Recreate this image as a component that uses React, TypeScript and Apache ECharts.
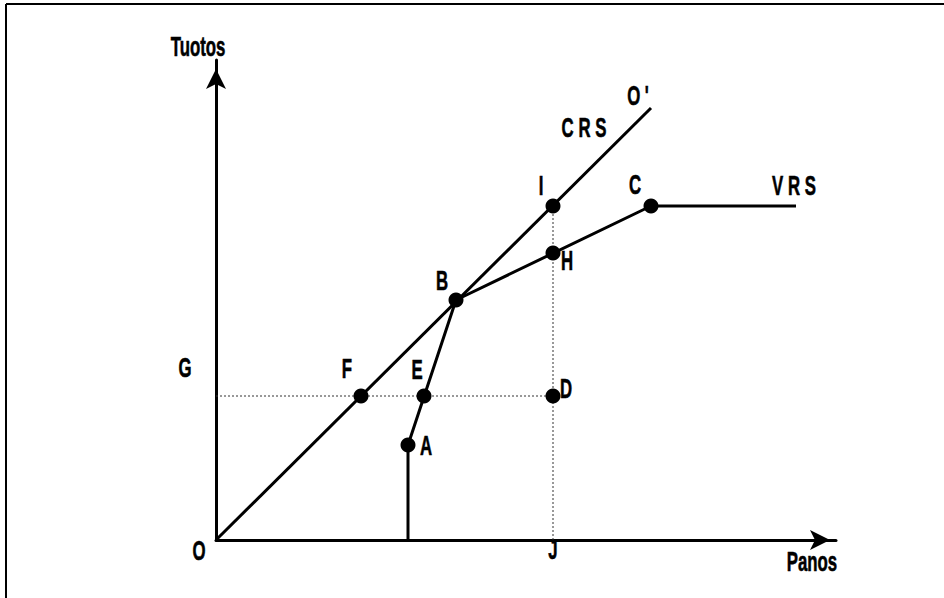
import React, { useEffect, useRef } from "react";
import * as echarts from "echarts";

// Observed units (input = Panos, output = Tuotos)
const pointNames = ["A", "E", "F", "D", "B", "H", "I", "C"];
const pointX = [19.2, 20.8, 14.5, 33.7, 24, 33.7, 33.7, 43.5];
const pointY = [9.5, 14.4, 14.4, 14.4, 24, 28.7, 33.4, 33.4];

// VRS frontier (from the x axis up through A, B, C and flat beyond)
const vrsX = [19.2, 19.2, 24, 43.5, 58];
const vrsY = [0, 9.5, 24, 33.4, 33.4];

// CRS frontier: ray from the origin O through B to O'
const crsX = [0, 43.5];
const crsY = [0, 43.2];

// Dotted guides: G–F–E–D and J–D–H–I
const guideHX = [0, 33.7];
const guideHY = [14.4, 14.4];
const guideVX = [33.7, 33.7];
const guideVY = [0, 33.4];

// Free annotations (axis names and letters), in data units
const annotNames = ["Tuotos", "Panos", "G", "O", "J", "C R S", "O '", "V R S"];
const annotX = [-1.8, 59.6, -3.1, -1.7, 33.7, 36.8, 42.2, 57.8];
const annotY = [49.4, -2.1, 17.3, -1.0, -0.9, 41.3, 44.5, 35.5];

const xMax = 62;
const yMax = 48;

// label offsets (pixels) for point letters
const labelOffsets: Record<string, [number, number]> = {
  A: [18, 0],
  E: [-7, -27],
  F: [-14, -28],
  D: [13, -8],
  B: [-14, -20],
  H: [14, 7],
  I: [-12, -21],
  C: [-16, -22],
};

const FONT = "'Liberation Sans', Arial, sans-serif";

const zip = (xs: number[], ys: number[]) => xs.map((x, i) => [x, ys[i]]);

export default function App() {
  const ref = useRef<HTMLDivElement>(null);

  useEffect(() => {
    if (!ref.current) return;
    const chart = echarts.init(ref.current, undefined, { renderer: "svg" });

    const axisLine = (offsetEnd: number) => ({
      show: true,
      onZero: false,
      symbol: ["none", "arrow"],
      symbolSize: [15, 20],
      symbolOffset: [0, offsetEnd],
      lineStyle: { color: "#000", width: 3 },
    });

    chart.setOption({
      animation: false,
      backgroundColor: "#fff",
      grid: { left: 216, right: 108, top: 60, bottom: 58, containLabel: false },
      xAxis: {
        type: "value",
        min: 0,
        max: xMax,
        axisLine: axisLine(-6),
        axisTick: { show: false },
        axisLabel: { show: false },
        splitLine: { show: false },
      },
      yAxis: {
        type: "value",
        min: 0,
        max: yMax,
        axisLine: axisLine(-9),
        axisTick: { show: false },
        axisLabel: { show: false },
        splitLine: { show: false },
      },
      series: [
        {
          type: "line",
          data: zip(guideHX, guideHY),
          showSymbol: false,
          silent: true,
          z: 1,
          lineStyle: { color: "#333", width: 1, type: [2, 2] },
        },
        {
          type: "line",
          data: zip(guideVX, guideVY),
          showSymbol: false,
          silent: true,
          z: 1,
          lineStyle: { color: "#333", width: 1, type: [2, 2] },
        },
        {
          type: "line",
          data: zip(crsX, crsY),
          showSymbol: false,
          silent: true,
          z: 2,
          lineStyle: { color: "#000", width: 3 },
        },
        {
          type: "line",
          data: zip(vrsX, vrsY),
          showSymbol: false,
          silent: true,
          z: 2,
          lineStyle: { color: "#000", width: 3 },
        },
        {
          type: "scatter",
          z: 3,
          symbolSize: 15,
          itemStyle: { color: "#000", opacity: 1 },
          silent: true,
          clip: false,
          data: pointNames.map((n, i) => ({ name: n, value: [pointX[i], pointY[i]] })),
        },
      ],
    });

    const toPx = (x: number, y: number) =>
      chart.convertToPixel({ gridIndex: 0 }, [x, y]) as number[];

    const textEl = (text: string, px: number[], dx = 0, dy = 0) => ({
      type: "text",
      x: px[0] + dx,
      y: px[1] + dy,
      scaleX: 0.6,
      z: 10,
      silent: true,
      style: {
        text,
        fill: "#000",
        stroke: "#000",
        lineWidth: 0.6,
        fontFamily: FONT,
        fontWeight: "bold",
        fontSize: 28,
        align: "center",
        verticalAlign: "middle",
      },
    });

    const texts = [
      ...pointNames.map((n, i) => {
        const o = labelOffsets[n];
        return textEl(n, toPx(pointX[i], pointY[i]), o[0], o[1]);
      }),
      ...annotNames.map((n, i) => textEl(n, toPx(annotX[i], annotY[i]))),
    ];

    chart.setOption({
      graphic: [
        { type: "line", shape: { x1: 6, y1: 4, x2: 944, y2: 4 }, style: { stroke: "#000", lineWidth: 2 } },
        { type: "line", shape: { x1: 6, y1: 4, x2: 6, y2: 598 }, style: { stroke: "#000", lineWidth: 2 } },
        ...texts,
      ],
    });

    return () => chart.dispose();
  }, []);

  return (
    <div
      ref={ref}
      style={{ position: "fixed", left: 0, top: 0, width: 944, height: 598, background: "#fff" }}
    />
  );
}
